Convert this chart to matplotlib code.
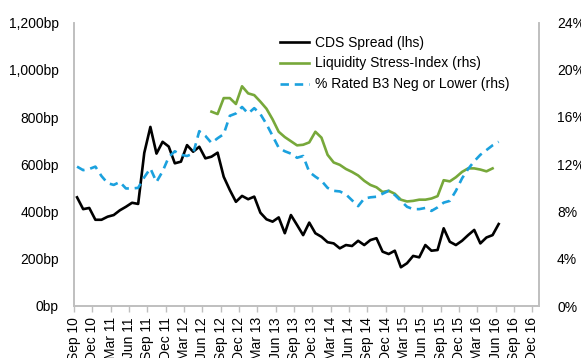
import numpy as np
import matplotlib
matplotlib.use("Agg")
import matplotlib.pyplot as plt

plt.rcParams['font.family'] = ['Liberation Sans', 'DejaVu Sans']

# Quarterly axis labels (Sep 2010 .. Dec 2016)
quarter_labels = ["Sep 10", "Dec 10", "Mar 11", "Jun 11", "Sep 11", "Dec 11",
                  "Mar 12", "Jun 12", "Sep 12", "Dec 12", "Mar 13", "Jun 13",
                  "Sep 13", "Dec 13", "Mar 14", "Jun 14", "Sep 14", "Dec 14",
                  "Mar 15", "Jun 15", "Sep 15", "Dec 15", "Mar 16", "Jun 16",
                  "Sep 16", "Dec 16"]

# Monthly CDS spread in bp, Sep 2010 .. Jun 2016
cds_spread = [460, 410, 415, 365, 365, 378, 385, 405, 420, 437,
              432, 648, 758, 645, 695, 675, 604, 611, 681, 653,
              674, 625, 632, 649, 547, 491, 441, 466, 452, 463,
              395, 367, 357, 375, 308, 385, 343, 300, 353, 308,
              293, 270, 265, 244, 258, 254, 276, 258, 279, 287,
              230, 220, 234, 164, 181, 212, 206, 258, 234, 237,
              329, 272, 258, 276, 300, 322, 265, 290, 300, 347]

# % rated B3 negative or lower, Sep 2010 .. Jun 2016
pct_b3_neg = [11.8, 11.5, 11.6, 11.8, 11.0, 10.4, 10.25, 10.5, 9.95, 9.95,
              10.0, 10.9, 11.65, 10.5, 11.4, 12.6, 13.1, 12.8, 12.7, 12.9,
              14.8, 14.4, 13.8, 14.2, 14.55, 16.1, 16.3, 16.85, 16.3, 16.75,
              16.25, 15.4, 14.4, 13.4, 13.1, 12.9, 12.55, 12.7, 11.35, 10.95,
              10.6, 10.0, 9.75, 9.7, 9.45, 8.95, 8.45, 9.1, 9.2, 9.25,
              9.5, 9.75, 9.4, 8.9, 8.4, 8.2, 8.2, 8.3, 8.05, 8.35,
              8.75, 8.9, 9.75, 10.8, 11.6, 12.25, 12.8, 13.2, 13.6, 13.9]

# Liquidity stress index in %, Jul 2012 .. May 2016
liquidity_start = 22  # months after Sep 2010
liquidity_stress = [16.45, 16.25, 17.6, 17.6, 17.1, 18.6, 18.0, 17.85, 17.3, 16.7,
                    15.8, 14.75, 14.3, 13.95, 13.6, 13.65, 13.85, 14.75, 14.25, 12.8,
                    12.15, 11.95, 11.6, 11.35, 11.05, 10.6, 10.25, 10.05, 9.65, 9.75,
                    9.5, 9.0, 8.85, 8.9, 9.0, 9.0, 9.1, 9.3, 10.65, 10.55,
                    10.9, 11.35, 11.65, 11.65, 11.55, 11.4, 11.65]

left_ticks = [0, 200, 400, 600, 800, 1000, 1200]
left_labels = ["0bp", "200bp", "400bp", "600bp", "800bp", "1,000bp", "1,200bp"]
right_ticks = [0, 4, 8, 12, 16, 20, 24]
right_labels = ["0%", "4%", "8%", "12%", "16%", "20%", "24%"]

# Monthly points sit mid-month; quarter ticks sit at month starts
x_cds = np.arange(len(cds_spread)) + 0.5
x_b3 = np.arange(len(pct_b3_neg)) + 0.5
x_liq = np.arange(len(liquidity_stress)) + liquidity_start + 0.5
tick_pos = np.arange(len(quarter_labels)) * 3

fig = plt.figure(figsize=(5.81, 3.58), dpi=100)
ax = fig.add_axes([74 / 581, 1 - 306 / 358, 465 / 581, 283.5 / 358])
ax2 = ax.twinx()

grey = "#BFBFBF"
l1, = ax.plot(x_cds, cds_spread, color="black", lw=1.9, label="CDS Spread (lhs)")
l2, = ax2.plot(x_liq, liquidity_stress, color="#77A83A", lw=1.9,
               label="Liquidity Stress-Index (rhs)")
l3, = ax2.plot(x_b3, pct_b3_neg, color="#1BA1DE", lw=1.9, ls=(0, (3.2, 2.2)),
               label="% Rated B3 Neg or Lower (rhs)")

ax.set_xlim(0, 76.1)
ax.set_ylim(0, 1200)
ax2.set_ylim(0, 24)

ax.set_yticks(left_ticks)
ax.set_yticklabels(left_labels)
ax2.set_yticks(right_ticks)
ax2.set_yticklabels(right_labels)
ax.set_xticks(tick_pos)
ax.set_xticklabels(quarter_labels, rotation=90, va="top", ha="center")

for a in (ax, ax2):
    a.spines["top"].set_visible(False)
    for s in ("left", "right", "bottom"):
        a.spines[s].set_color(grey)
        a.spines[s].set_linewidth(1.2)
    a.tick_params(axis="y", length=0, labelsize=10, colors="black")

ax.tick_params(axis="y", pad=11)
ax2.tick_params(axis="y", pad=13)
ax.tick_params(axis="x", length=4, width=1, color=grey, labelsize=10, pad=4)

ax.legend(handles=[l1, l2, l3], loc="upper left", bbox_to_anchor=(0.443, 0.954),
          frameon=False, fontsize=10, handlelength=2.1, handletextpad=0.4,
          labelspacing=0.5, borderpad=0, borderaxespad=0)

fig.savefig("out.png", dpi=100)
